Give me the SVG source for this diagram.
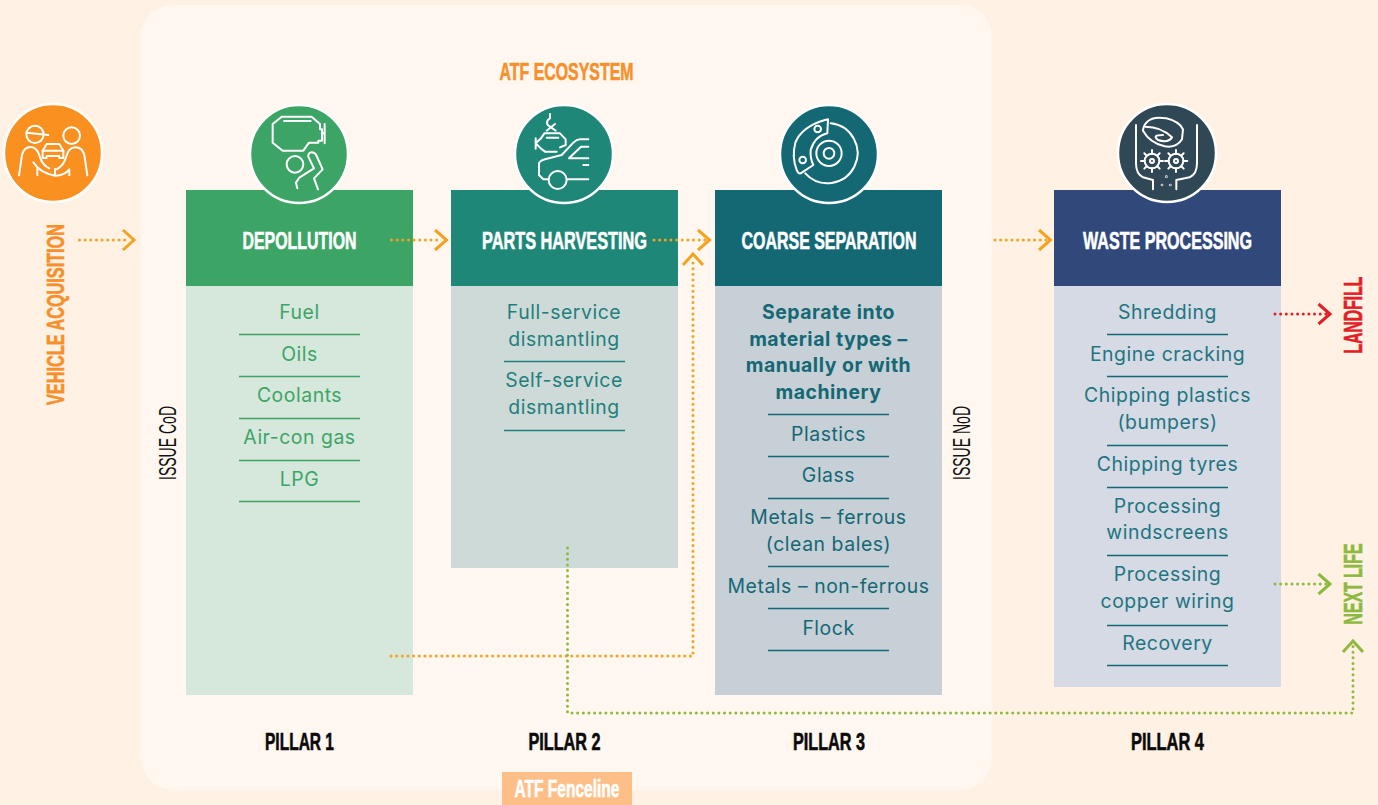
<svg xmlns="http://www.w3.org/2000/svg" width="1378" height="805" viewBox="0 0 1378 805">
<style>
.h{font-family:"Liberation Sans",Arial,sans-serif;font-weight:700;text-anchor:middle;stroke-width:.6}
.hd{font-size:24.700px;fill:#fff;stroke:#fff}
.pl{font-size:24px;fill:#0a0a0a;stroke:#0a0a0a}
.t{font-family:Inter,"Open Sans",sans-serif;font-size:19.400px;letter-spacing:.55px;text-anchor:middle}
.g{fill:#3CA566}.c{fill:#1E7F7C}.d{fill:#136874}.w{fill:#1E7580}
.b{font-weight:700}
.ln{stroke-width:1.4;fill:none}
.ico{fill:none;stroke:#fff;stroke-width:6;stroke-linejoin:round;stroke-linecap:round}
.ring{stroke:#fff;stroke-width:2.500}
.dot{fill:none;stroke-width:3;stroke-linecap:round;stroke-dasharray:0 5.650}
.chev{fill:none;stroke-width:3}
.o{stroke:#F4A31F}.gr{stroke:#8DB93F}.r{stroke:#E21F26}
.iss{font-family:"Liberation Sans",Arial,sans-serif;font-size:24px;fill:#111;text-anchor:middle}
</style>
<rect id="background" width="1378" height="805" fill="#FFF2E5"/>
<rect id="ecosystem" x="141" y="5" width="851" height="785" rx="32" fill="#FFF7F0"/>
<text class="h" x="566.500" y="80" font-size="24" fill="#F7902B" stroke="#F7902B" textLength="134" lengthAdjust="spacingAndGlyphs">ATF ECOSYSTEM</text>

<g id="acquisition">
<circle cx="53" cy="153" r="49" fill="#F99020" class="ring"/>
<g class="ico" transform="translate(0,100) scale(.3333)">
<circle cx="105" cy="103" r="26"/><path d="M80 98L145 105"/><circle cx="215" cy="107" r="25"/>
<path d="M57 226L66 165Q72 141 92 141Q112 141 120 172Q128 196 148 205"/>
<path d="M262 226L253 165Q247 142 226 142Q206 142 198 172Q192 196 170 208"/>
<path d="M100 187Q118 218 165 227Q195 226 208 208V226M112 208V226M165 207V226"/>
<path d="M128 152L140 132H178L190 152V174H178V168H140V174H128Z"/><path d="M128 152H190"/>
</g>
<text class="h" transform="translate(63.500,314.500) rotate(-90)" font-size="24" fill="#F7902B" stroke="#F7902B" textLength="181" lengthAdjust="spacingAndGlyphs">VEHICLE ACQUISITION</text>
</g>

<g id="pillar1">
<rect x="186" y="286" width="227" height="409" fill="#D6E7DB"/>
<rect x="186" y="190" width="227" height="96" fill="#3CA566"/>
<circle cx="299" cy="154" r="49" fill="#3CA566" class="ring"/>
<g class="ico" transform="translate(240,100) scale(.3333)">
<path d="M125 50H215L240 72V88H246V122H235V128H207L190 152H128L98 128V72Z"/><path d="M132 63H212M246 100H254M254 72V130"/>
<circle cx="165" cy="193" r="25"/>
<path d="M172 265L168 248L178 233L222 205L205 170Q203 158 216 157Q226 158 230 168L248 208L222 235L234 268"/>
</g>
<text class="h hd" x="299.500" y="249" textLength="114" lengthAdjust="spacingAndGlyphs">DEPOLLUTION</text>
<g class="t g">
<text x="299.500" y="319">Fuel</text><text x="299.500" y="361">Oils</text><text x="299.500" y="402">Coolants</text><text x="299.500" y="444">Air-con gas</text><text x="299.500" y="486">LPG</text>
</g>
<path class="ln" stroke="#3CA566" d="M239 334.500H360M239 376.500H360M239 418.500H360M239 460.500H360M239 501.500H360"/>
<text class="h pl" x="299.500" y="750" textLength="69" lengthAdjust="spacingAndGlyphs">PILLAR 1</text>
</g>

<g id="pillar2">
<rect x="451" y="286" width="227" height="282" fill="#CEDAD8"/>
<rect x="451" y="190" width="227" height="96" fill="#1E8778"/>
<circle cx="564" cy="154" r="49" fill="#1E8778" class="ring"/>
<g class="ico" transform="translate(505,100) scale(.3333)">
<path d="M135 42V55Q122 62 128 75L152 92M125 92L150 72"/>
<path d="M108 115L118 100H165L182 118V135L165 142M108 146L120 155H155M92 115V146M92 130L108 115M92 130L108 146M125 113H160"/>
<path d="M250 118H225Q215 118 205 128L170 165L120 178Q105 182 102 190V225L115 238H130"/>
<circle cx="158" cy="240" r="27"/><path d="M187 238H250M250 140H228L192 175H250M235 195H250"/>
</g>
<text class="h hd" x="564.500" y="249" textLength="165" lengthAdjust="spacingAndGlyphs">PARTS HARVESTING</text>
<g class="t c">
<text x="564" y="319">Full-service</text><text x="564" y="345.500">dismantling</text><text x="564" y="387">Self-service</text><text x="564" y="414">dismantling</text>
</g>
<path class="ln" stroke="#1E7F7C" d="M504 361.500H625M504 430.500H625"/>
<text class="h pl" x="564.500" y="750" textLength="72" lengthAdjust="spacingAndGlyphs">PILLAR 2</text>
</g>

<g id="pillar3">
<rect x="715" y="286" width="227" height="409" fill="#C7CFD7"/>
<rect x="715" y="190" width="227" height="96" fill="#136874"/>
<circle cx="829" cy="154" r="49" fill="#136874" class="ring"/>
<g class="ico" transform="translate(770,100) scale(.3333)">
<circle cx="177" cy="160" r="16"/><circle cx="177" cy="160" r="38"/>
<path d="M182 70A90 90 0 1 1 106 220"/>
<path d="M174 58L172 100Q135 108 122 150Q120 175 130 195L92 220Q85 222 80 210Q65 170 76 128Q95 80 165 60Z"/>
<circle cx="143" cy="87" r="10"/><circle cx="98" cy="180" r="10"/>
</g>
<text class="h hd" x="829" y="249" textLength="175" lengthAdjust="spacingAndGlyphs">COARSE SEPARATION</text>
<g class="t d">
<text class="b" x="828.500" y="319">Separate into</text><text class="b" x="828.500" y="345.500">material types –</text><text class="b" x="828.500" y="372">manually or with</text><text class="b" x="828.500" y="399">machinery</text>
<text x="828.500" y="441">Plastics</text><text x="828.500" y="482">Glass</text><text x="828.500" y="524">Metals – ferrous</text><text x="828.500" y="551">(clean bales)</text><text x="828.500" y="593">Metals – non-ferrous</text><text x="828.500" y="635">Flock</text>
</g>
<path class="ln" stroke="#136874" d="M768 414.500H889M768 456.500H889M768 498.500H889M768 566.500H889M768 608.500H889M768 650.500H889"/>
<text class="h pl" x="829" y="750" textLength="72" lengthAdjust="spacingAndGlyphs">PILLAR 3</text>
</g>

<g id="pillar4">
<rect x="1054" y="286" width="227" height="401" fill="#D5DAE5"/>
<rect x="1054" y="190" width="227" height="96" fill="#31487B"/>
<circle cx="1167" cy="153" r="49" fill="#304755" class="ring"/>
<g class="ico" transform="translate(1108,100) scale(.3333)">
<path d="M84 75V190Q84 222 105 232L135 240V268M267 75V190Q267 222 245 232L205 240V268"/>
<circle cx="132" cy="183" r="22"/><circle cx="204" cy="183" r="22"/>
<circle cx="132" cy="183" r="6"/><circle cx="204" cy="183" r="6"/>
<path d="M132 150V161M132 205V216M99 183H110M154 183H165M109 160L116 167M148 199L155 206M155 160L148 167M116 199L109 206"/>
<path d="M204 150V161M204 205V216M171 183H182M226 183H238M181 160L188 167M220 199L227 206M227 160L220 167M188 199L181 206"/>
<path d="M118 65Q135 48 175 55Q215 65 225 88L222 118Q205 145 170 139Q125 128 105 92Q106 75 118 65Z"/>
<path d="M112 80Q160 80 192 112Q180 130 150 120Q130 105 165 105"/>
<circle cx="175" cy="230" r="1"/><circle cx="162" cy="255" r="1"/><circle cx="187" cy="255" r="1"/>
</g>
<text class="h hd" x="1167.500" y="249" textLength="169" lengthAdjust="spacingAndGlyphs">WASTE PROCESSING</text>
<g class="t w">
<text x="1167.500" y="319">Shredding</text><text x="1167.500" y="361">Engine cracking</text><text x="1167.500" y="402">Chipping plastics</text><text x="1167.500" y="429">(bumpers)</text><text x="1167.500" y="471">Chipping tyres</text><text x="1167.500" y="513">Processing</text><text x="1167.500" y="539">windscreens</text><text x="1167.500" y="581">Processing</text><text x="1167.500" y="608">copper wiring</text><text x="1167.500" y="650">Recovery</text>
</g>
<path class="ln" stroke="#136874" d="M1107 334.500H1228M1107 376.500H1228M1107 445.500H1228M1107 487.500H1228M1107 555.500H1228M1107 625.500H1228M1107 665.500H1228"/>
<text class="h pl" x="1167.500" y="750" textLength="73" lengthAdjust="spacingAndGlyphs">PILLAR 4</text>
</g>

<g id="connectors">
<path class="dot o" d="M79.500 240H128"/><path class="chev o" d="M123 230L134 240L123 250"/>
<path class="dot o" d="M391.500 240H442"/><path class="chev o" d="M435 230L446.500 240L435 250"/>
<path class="dot o" d="M654 240H705"/><path class="chev o" d="M698 230L709.500 240L698 250"/>
<path class="dot o" d="M391 656H693V258"/><path class="chev o" d="M683 265L693 254L703 265"/>
<path class="dot o" d="M995 240H1046"/><path class="chev o" d="M1039 230L1050.500 240L1039 250"/>
<path class="dot r" d="M1275 314H1326"/><path class="chev r" d="M1318.500 304L1330 314L1318.500 324"/>
<path class="dot gr" d="M1275 584H1326"/><path class="chev gr" d="M1318.500 574L1330 584L1318.500 594"/>
<path class="dot gr" d="M567.500 548V713H1353V646"/><path class="chev gr" d="M1343 652L1353 641L1363 652"/>
</g>

<g id="labels">
<text class="iss" transform="translate(176,443) rotate(-90)" textLength="74" lengthAdjust="spacingAndGlyphs">ISSUE CoD</text>
<text class="iss" transform="translate(970,443) rotate(-90)" textLength="74" lengthAdjust="spacingAndGlyphs">ISSUE NoD</text>
<text class="h" transform="translate(1362,315) rotate(-90)" font-size="26" fill="#E21F26" stroke="#E21F26" textLength="77" lengthAdjust="spacingAndGlyphs">LANDFILL</text>
<text class="h" transform="translate(1362,584) rotate(-90)" font-size="26" fill="#8DB93F" stroke="#8DB93F" textLength="81" lengthAdjust="spacingAndGlyphs">NEXT LIFE</text>
<g id="fenceline"><rect x="502" y="772" width="130" height="33" fill="#FDBF87"/>
<text class="h" x="567" y="797" font-size="23" fill="#fff" stroke="#fff" textLength="105" lengthAdjust="spacingAndGlyphs">ATF Fenceline</text></g>
</g>
</svg>
